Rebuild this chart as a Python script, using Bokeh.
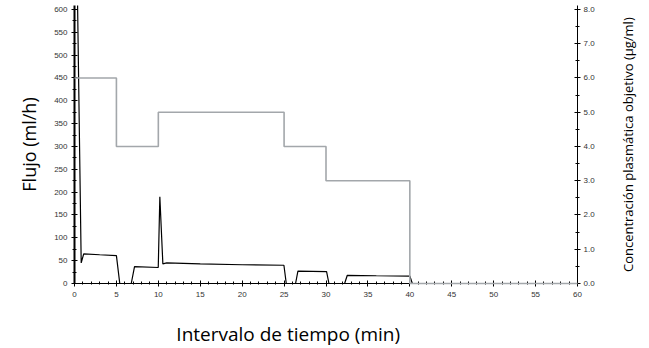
import math
from bokeh.plotting import figure
from bokeh.models import Range1d, LinearAxis, SingleIntervalTicker, NumeralTickFormatter, Label
from bokeh.embed import file_html
from bokeh.resources import INLINE

# Flow (ml/h) over time (min)
flow_t = [0.36, 0.80, 1.10, 3.0, 5.0, 5.40, 6.77, 7.16, 9.99, 10.18, 10.54, 11.0, 15.0, 20.0, 24.98,
          25.26, 26.37, 26.65, 30.07, 30.35, 32.22, 32.54, 36.0, 40.01, 40.30, 40.9]
flow_v = [620, 45, 65, 63, 61, 0, 0, 37, 35, 190, 43, 45, 43, 41, 40,
          0, 0, 27, 26, 0, 0, 18, 17, 16, 0, 0]

# Target plasma concentration (ug/ml)
conc_t = [0, 5, 5, 10, 10, 25, 25, 30, 30, 40, 40, 60]
conc_v = [6.0, 6.0, 4.0, 4.0, 5.0, 5.0, 4.0, 4.0, 3.0, 3.0, 0.0, 0.0]

x_title = "Intervalo de tiempo (min)"
y_title = "Flujo (ml/h)"
y2_title = "Concentración plasmática objetivo (µg/ml)"

Y_MAX = 608.7
Y2_MAX = Y_MAX / 75.0

p = figure(width=649, height=348, output_backend="svg", toolbar_location=None,
           x_range=Range1d(0, 60), y_range=Range1d(0, Y_MAX),
           min_border_left=74, min_border_right=72, min_border_top=5, min_border_bottom=65)
p.extra_y_ranges = {"conc": Range1d(0, Y2_MAX)}
p.outline_line_color = None
p.xgrid.visible = False
p.ygrid.visible = False
p.background_fill_color = "white"
p.border_fill_color = "white"

p.line(conc_t, conc_v, y_range_name="conc", line_color="#a3a7ab", line_width=1.6, level="overlay")
p.line(flow_t, flow_v, line_color="black", line_width=1.2)

tick_font = "Liberation Sans"
tick_col = "#333333"

xa = p.xaxis[0]
xa.ticker = SingleIntervalTicker(interval=5, num_minor_ticks=5)
xa.major_label_text_font = tick_font
xa.major_label_text_font_size = "8px"
xa.major_label_text_color = tick_col
xa.major_label_standoff = 5
xa.major_tick_in = 3
xa.major_tick_out = 3
xa.minor_tick_in = 2
xa.minor_tick_out = 1
xa.axis_line_width = 1.2

ya = p.yaxis[0]
ya.ticker = SingleIntervalTicker(interval=50, num_minor_ticks=2)
ya.axis_label = y_title
ya.axis_label_text_font = "Open Sans"
ya.axis_label_text_font_style = "normal"
ya.axis_label_text_font_size = "18px"
ya.axis_label_text_color = "black"
ya.axis_label_standoff = 10
ya.major_label_text_font = tick_font
ya.major_label_text_font_size = "8px"
ya.major_label_text_color = tick_col
ya.major_label_standoff = 4
ya.major_tick_in = 3
ya.major_tick_out = 3
ya.minor_tick_in = 2
ya.minor_tick_out = 2
ya.axis_line_width = 2

ra = LinearAxis(y_range_name="conc")
ra.ticker = SingleIntervalTicker(interval=1, num_minor_ticks=2)
ra.formatter = NumeralTickFormatter(format="0.0")
ra.major_label_text_font = tick_font
ra.major_label_text_font_size = "8px"
ra.major_label_text_color = tick_col
ra.major_label_standoff = 3
ra.major_tick_in = 3
ra.major_tick_out = 3
ra.minor_tick_in = 2
ra.minor_tick_out = 2
ra.axis_line_width = 1
p.add_layout(ra, "right")

# axis titles as labels in the side panels (positioned like the reference)
p.add_layout(Label(x=12.15, y=-110, text=x_title, text_font="Open Sans",
                   text_font_size="19px", text_color="black",
                   text_baseline="alphabetic", text_align="left"), "below")
p.add_layout(Label(x=66.0, y=304, text=y2_title, text_font="Open Sans", angle=math.pi / 2,
                   text_font_size="13px", text_color="black",
                   text_baseline="middle", text_align="center"), "right")

open("out.html", "w").write(file_html(p, INLINE))
